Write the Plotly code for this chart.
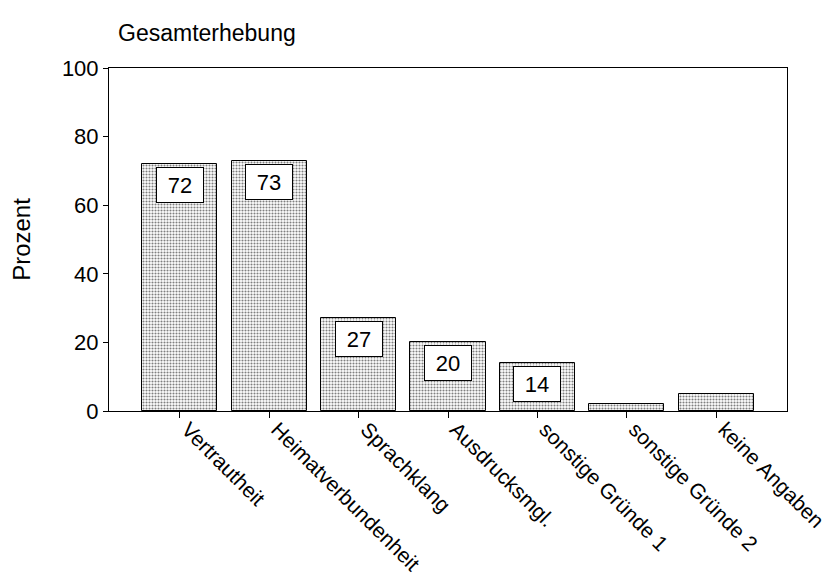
import plotly.graph_objects as go

categories = [
    "Vertrautheit",
    "Heimatverbundenheit",
    "Sprachklang",
    "Ausdrucksmgl.",
    "sonstige Gründe 1",
    "sonstige Gründe 2",
    "keine Angaben",
]
values = [72, 73, 27, 20, 14, 2, 5]
labels = ["72", "73", "27", "20", "14", "", ""]
y_ticks = [0, 20, 40, 60, 80, 100]

FONT = "Liberation Sans, Arial, sans-serif"
W, H = 825, 578  # page body keeps an 8px margin

fig = go.Figure()

fig.add_trace(
    go.Bar(
        x=list(range(len(categories))),
        y=values,
        width=0.84,
        marker=dict(
            color="white",
            line=dict(color="black", width=1),
            pattern=dict(shape=".", fgcolor="black", bgcolor="white", size=3, solidity=0.4),
        ),
        showlegend=False,
        hoverinfo="skip",
    )
)

# value boxes sitting just inside the top of each bar
for i, (v, lab) in enumerate(zip(values, labels)):
    if not lab:
        continue
    fig.add_annotation(
        x=i,
        y=v,
        xref="x",
        yref="y",
        text=lab,
        showarrow=False,
        yanchor="top",
        yshift=-3,
        width=44,
        height=32,
        bgcolor="white",
        bordercolor="black",
        borderwidth=1,
        borderpad=1,
        font=dict(family=FONT, size=22, color="black"),
    )

fig.update_layout(
    width=W,
    height=H,
    margin=dict(l=101, r=46, t=60, b=175),
    paper_bgcolor="white",
    plot_bgcolor="white",
    font=dict(family=FONT, size=22, color="black"),
    title=dict(
        text="Gesamterhebung",
        x=110 / W,
        xanchor="left",
        xref="container",
        y=1 - 25 / H,
        yanchor="middle",
        yref="container",
        font=dict(family=FONT, size=23, color="black"),
    ),
    bargap=0,
)

fig.update_xaxes(
    range=[-0.79, 6.79],
    tickvals=list(range(len(categories))),
    ticktext=categories,
    tickangle=45,
    ticks="outside",
    ticklen=6,
    tickcolor="black",
    ticklabelstandoff=-9,
    ticklabelshift=8,
    ticklabeloverflow="allow",
    showline=True,
    linecolor="black",
    linewidth=1,
    mirror=True,
    showgrid=False,
    zeroline=False,
    automargin=False,
    tickfont=dict(family=FONT, size=21),
)

fig.update_yaxes(
    range=[0, 100],
    tickvals=y_ticks,
    ticks="outside",
    ticklen=5,
    tickcolor="black",
    showline=True,
    linecolor="black",
    linewidth=1,
    mirror=True,
    showgrid=False,
    zeroline=False,
    automargin=False,
    tickfont=dict(family=FONT, size=22),
    title=dict(text="Prozent", font=dict(family=FONT, size=24), standoff=41),
)

fig.write_html("out.html")
